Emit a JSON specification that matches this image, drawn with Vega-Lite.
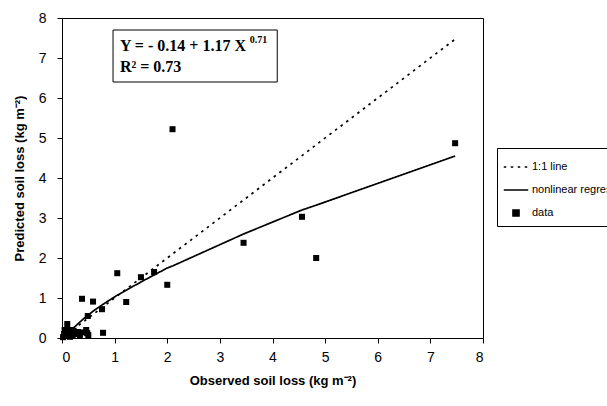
{
  "$schema": "https://vega.github.io/schema/vega-lite/v6.json",
  "width": 421,
  "height": 320,
  "autosize": {"type": "none"},
  "padding": {"left": 62, "top": 18, "right": 124, "bottom": 68},
  "background": "white",
  "config": {
    "view": {"stroke": "black", "strokeWidth": 1},
    "axis": {
      "grid": false,
      "domainColor": "black",
      "tickColor": "black",
      "tickSize": 5,
      "labelFont": "Liberation Sans",
      "labelFontSize": 14,
      "labelColor": "black",
      "labelOverlap": false,
      "titleFont": "Liberation Sans",
      "titleFontSize": 13,
      "titleFontWeight": "bold",
      "titleColor": "black"
    },
    "legend": {
      "labelFont": "Liberation Sans",
      "labelFontSize": 11,
      "labelColor": "black",
      "orient": "none",
      "legendX": 435,
      "legendY": 130,
      "strokeColor": "black",
      "padding": 6,
      "rowPadding": 5,
      "labelOffset": 3,
      "symbolSize": 600,
      "symbolFillColor": "black",
      "symbolStrokeColor": "black",
      "symbolStrokeWidth": 1.5
    }
  },
  "datasets": {
    "pts": [
      {"obs": 0.02, "pred": 0.02, "series": "data"},
      {"obs": 0.04, "pred": 0.10, "series": "data"},
      {"obs": 0.06, "pred": 0.05, "series": "data"},
      {"obs": 0.08, "pred": 0.15, "series": "data"},
      {"obs": 0.10, "pred": 0.35, "series": "data"},
      {"obs": 0.10, "pred": 0.20, "series": "data"},
      {"obs": 0.12, "pred": 0.08, "series": "data"},
      {"obs": 0.15, "pred": 0.12, "series": "data"},
      {"obs": 0.18, "pred": 0.20, "series": "data"},
      {"obs": 0.20, "pred": 0.05, "series": "data"},
      {"obs": 0.22, "pred": 0.18, "series": "data"},
      {"obs": 0.25, "pred": 0.10, "series": "data"},
      {"obs": 0.30, "pred": 0.15, "series": "data"},
      {"obs": 0.05, "pred": 0.20, "series": "data"},
      {"obs": 0.15, "pred": 0.03, "series": "data"},
      {"obs": 0.34, "pred": 0.07, "series": "data"},
      {"obs": 0.38, "pred": 0.14, "series": "data"},
      {"obs": 0.46, "pred": 0.20, "series": "data"},
      {"obs": 0.50, "pred": 0.07, "series": "data"},
      {"obs": 0.48, "pred": 0.12, "series": "data"},
      {"obs": 0.38, "pred": 0.98, "series": "data"},
      {"obs": 0.59, "pred": 0.91, "series": "data"},
      {"obs": 0.49, "pred": 0.55, "series": "data"},
      {"obs": 0.76, "pred": 0.72, "series": "data"},
      {"obs": 0.78, "pred": 0.13, "series": "data"},
      {"obs": 1.05, "pred": 1.62, "series": "data"},
      {"obs": 1.22, "pred": 0.90, "series": "data"},
      {"obs": 1.50, "pred": 1.52, "series": "data"},
      {"obs": 1.75, "pred": 1.65, "series": "data"},
      {"obs": 2.00, "pred": 1.33, "series": "data"},
      {"obs": 2.10, "pred": 5.22, "series": "data"},
      {"obs": 3.45, "pred": 2.38, "series": "data"},
      {"obs": 4.56, "pred": 3.03, "series": "data"},
      {"obs": 4.83, "pred": 2.00, "series": "data"},
      {"obs": 7.47, "pred": 4.87, "series": "data"}
    ],
    "lines": [
      {"obs": 0.0, "pred": 0.0, "series": "1:1 line"},
      {"obs": 7.47, "pred": 7.47, "series": "1:1 line"},
      {"obs": 0.02, "pred": 0.0, "series": "nonlinear regression"},
      {"obs": 0.1, "pred": 0.09, "series": "nonlinear regression"},
      {"obs": 0.2, "pred": 0.23, "series": "nonlinear regression"},
      {"obs": 0.4, "pred": 0.47, "series": "nonlinear regression"},
      {"obs": 0.6, "pred": 0.68, "series": "nonlinear regression"},
      {"obs": 0.8, "pred": 0.86, "series": "nonlinear regression"},
      {"obs": 1.05, "pred": 1.07, "series": "nonlinear regression"},
      {"obs": 1.5, "pred": 1.4, "series": "nonlinear regression"},
      {"obs": 2.0, "pred": 1.75, "series": "nonlinear regression"},
      {"obs": 2.1, "pred": 1.8, "series": "nonlinear regression"},
      {"obs": 3.45, "pred": 2.6, "series": "nonlinear regression"},
      {"obs": 4.56, "pred": 3.2, "series": "nonlinear regression"},
      {"obs": 4.83, "pred": 3.32, "series": "nonlinear regression"},
      {"obs": 7.47, "pred": 4.55, "series": "nonlinear regression"}
    ]
  },
  "layer": [
    {
      "data": {"name": "lines"},
      "mark": {"type": "line", "color": "black", "strokeWidth": 1.7},
      "encoding": {
        "x": {"field": "obs", "type": "quantitative",
              "scale": {"domain": [0, 8], "nice": false},
              "axis": {"title": "Observed soil loss (kg m⁻²)", "values": [0,1,2,3,4,5,6,7,8], "labelOverlap": false, "labelPadding": 7, "titlePadding": 10}},
        "y": {"field": "pred", "type": "quantitative",
              "scale": {"domain": [0, 8], "nice": false},
              "axis": {"title": "Predicted soil loss (kg m⁻²)", "values": [0,1,2,3,4,5,6,7,8], "labelOverlap": false, "labelPadding": 11, "titlePadding": 12}},
        "detail": {"field": "series"},
        "strokeDash": {"field": "series", "type": "nominal",
          "scale": {"domain": ["1:1 line", "nonlinear regression", "data"], "range": [[2.5, 4.5], [1, 0], [1, 0]]},
          "legend": {"title": null,
            "encode": {"symbols": {"update": {"stroke": {"value": "black"}, "fill": {"value": "black"}, "strokeWidth": {"value": 1.5}}}}}}
      }
    },
    {
      "data": {"name": "pts"},
      "mark": {"type": "point", "filled": true, "color": "black", "opacity": 1, "size": 580},
      "encoding": {
        "x": {"field": "obs", "type": "quantitative",
              "axis": {"title": "Observed soil loss (kg m⁻²)", "values": [0,1,2,3,4,5,6,7,8], "labelOverlap": false, "labelPadding": 7, "titlePadding": 10}},
        "y": {"field": "pred", "type": "quantitative",
              "axis": {"title": "Predicted soil loss (kg m⁻²)", "values": [0,1,2,3,4,5,6,7,8], "labelOverlap": false, "labelPadding": 11, "titlePadding": 12}},
        "shape": {"field": "series", "type": "nominal",
          "scale": {"domain": ["1:1 line", "nonlinear regression", "data"], "range": ["M-1,0L1,0", "M-1,0L1,0", "M-0.25,-0.25h0.5v0.5h-0.5z"]},
          "legend": {"title": null,
            "encode": {"symbols": {"update": {"stroke": {"value": "black"}, "fill": {"value": "black"}, "strokeWidth": {"value": 1.5}}}}}}
      }
    },
    {
      "data": {"values": [{}]},
      "mark": {"type": "rect", "fill": "white", "stroke": "black", "strokeWidth": 1},
      "encoding": {
        "x": {"datum": 0.97, "type": "quantitative",
              "axis": {"title": "Observed soil loss (kg m⁻²)", "values": [0,1,2,3,4,5,6,7,8], "labelOverlap": false, "labelPadding": 7, "titlePadding": 10}},
        "x2": {"datum": 4.09},
        "y": {"datum": 7.7, "type": "quantitative",
              "axis": {"title": "Predicted soil loss (kg m⁻²)", "values": [0,1,2,3,4,5,6,7,8], "labelOverlap": false, "labelPadding": 11, "titlePadding": 12}},
        "y2": {"datum": 6.4}
      }
    },
    {
      "data": {"values": [{}]},
      "mark": {"type": "text", "align": "left", "baseline": "middle", "font": "Liberation Serif", "fontSize": 16, "fontWeight": "bold", "color": "black"},
      "encoding": {
        "x": {"datum": 1.1, "type": "quantitative",
              "axis": {"title": "Observed soil loss (kg m⁻²)", "values": [0,1,2,3,4,5,6,7,8], "labelOverlap": false, "labelPadding": 7, "titlePadding": 10}},
        "y": {"datum": 7.3, "type": "quantitative",
              "axis": {"title": "Predicted soil loss (kg m⁻²)", "values": [0,1,2,3,4,5,6,7,8], "labelOverlap": false, "labelPadding": 11, "titlePadding": 12}},
        "text": {"value": "Y = - 0.14 + 1.17 X"}
      }
    },
    {
      "data": {"values": [{}]},
      "mark": {"type": "text", "align": "left", "baseline": "middle", "font": "Liberation Serif", "fontSize": 10, "fontWeight": "bold", "color": "black"},
      "encoding": {
        "x": {"datum": 3.57, "type": "quantitative",
              "axis": {"title": "Observed soil loss (kg m⁻²)", "values": [0,1,2,3,4,5,6,7,8], "labelOverlap": false, "labelPadding": 7, "titlePadding": 10}},
        "y": {"datum": 7.45, "type": "quantitative",
              "axis": {"title": "Predicted soil loss (kg m⁻²)", "values": [0,1,2,3,4,5,6,7,8], "labelOverlap": false, "labelPadding": 11, "titlePadding": 12}},
        "text": {"value": "0.71"}
      }
    },
    {
      "data": {"values": [{}]},
      "mark": {"type": "text", "align": "left", "baseline": "middle", "font": "Liberation Serif", "fontSize": 16, "fontWeight": "bold", "color": "black"},
      "encoding": {
        "x": {"datum": 1.1, "type": "quantitative",
              "axis": {"title": "Observed soil loss (kg m⁻²)", "values": [0,1,2,3,4,5,6,7,8], "labelOverlap": false, "labelPadding": 7, "titlePadding": 10}},
        "y": {"datum": 6.78, "type": "quantitative",
              "axis": {"title": "Predicted soil loss (kg m⁻²)", "values": [0,1,2,3,4,5,6,7,8], "labelOverlap": false, "labelPadding": 11, "titlePadding": 12}},
        "text": {"value": "R² = 0.73"}
      }
    }
  ]
}
